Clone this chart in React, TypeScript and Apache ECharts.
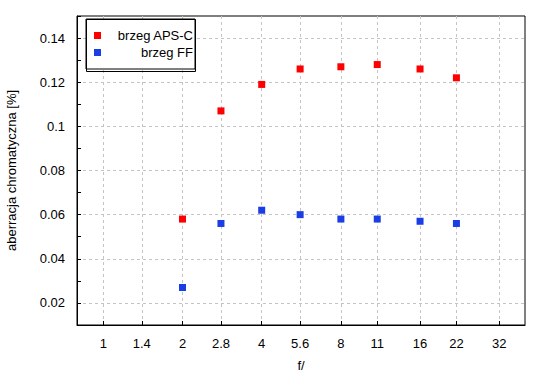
import React, { useEffect, useRef } from "react";
import * as echarts from "echarts";

const fNumbers = [1, 1.4, 2, 2.8, 4, 5.6, 8, 11, 16, 22, 32];
const measuredF = [2, 2.8, 4, 5.6, 8, 11, 16, 22];
const apsC = [0.058, 0.107, 0.119, 0.126, 0.127, 0.128, 0.126, 0.122];
const ff = [0.027, 0.056, 0.062, 0.06, 0.058, 0.058, 0.057, 0.056];
const yMinorTicks = [0.01, 0.02, 0.03, 0.04, 0.05, 0.06, 0.07, 0.08, 0.09, 0.1, 0.11, 0.12, 0.13, 0.14, 0.15];
const yLabels = [0.02, 0.04, 0.06, 0.08, 0.1, 0.12, 0.14];

const FONT = "Liberation Sans";

export default function App() {
  const ref = useRef<HTMLDivElement>(null);
  useEffect(() => {
    const chart = echarts.init(ref.current!, null, { renderer: "svg" });
    const gridLine = { show: true, lineStyle: { color: "#c4c4c4", type: [3, 3], width: 1 } };
    chart.setOption({
      animation: false,
      textStyle: { fontFamily: FONT },
      grid: {
        left: 77, top: 16, right: 25, bottom: 55,
        containLabel: false, outerBoundsMode: "none",
        show: true, borderColor: "#000", borderWidth: 1, backgroundColor: "transparent",
      },
      graphic: {
        elements: [
          {
            type: "polyline", z: 100, silent: true,
            shape: { points: [[86.5, 19.5], [195.5, 19.5], [195.5, 71.5], [86.5, 71.5], [86.5, 19.5]] },
            style: { stroke: "#000", lineWidth: 1, fill: null },
          },
        ],
      },
      legend: {
        left: 86, top: 19, orient: "vertical", z: 10,
        backgroundColor: "#fff", borderColor: "#000", borderWidth: 1,
        padding: [10, 2, 10, 8], itemGap: 4, itemWidth: 7, itemHeight: 7,
        icon: "rect",
        formatter: (name: string) => "{a|" + name + "}",
        textStyle: {
          fontFamily: FONT, fontSize: 13, color: "#000",
          rich: { a: { width: 87, align: "right", fontSize: 13, fontFamily: FONT, lineHeight: 14 } },
        },
        data: ["brzeg APS-C", "brzeg FF"],
      },
      xAxis: {
        type: "log", min: 0.794, max: 40.1,
        name: "f/", nameLocation: "middle", nameGap: 34,
        nameTextStyle: { fontFamily: FONT, fontSize: 13, color: "#000" },
        axisLine: { show: true, lineStyle: { color: "#000", width: 1 } },
        axisTick: { show: true, inside: true, length: 4, customValues: fNumbers, lineStyle: { color: "#000" } },
        axisLabel: { customValues: fNumbers, fontFamily: FONT, fontSize: 13, color: "#000", margin: 12,
          formatter: (v: number) => String(v) },
        splitLine: gridLine,
        minorTick: { show: false },
      },
      yAxis: [
        {
          type: "value", min: 0.01, max: 0.15,
          name: "aberracja chromatyczna [%]", nameLocation: "middle", nameGap: 59,
          nameTextStyle: { fontFamily: FONT, fontSize: 13, color: "#000" },
          axisLine: { show: true, lineStyle: { color: "#000", width: 1 } },
          axisTick: { show: true, inside: true, length: 4, customValues: yMinorTicks, lineStyle: { color: "#000" } },
          axisLabel: { customValues: yLabels, fontFamily: FONT, fontSize: 13, color: "#000", margin: 12,
            formatter: (v: number) => String(Math.round(v * 100) / 100) },
          splitLine: { show: false },
        },
        {
          type: "value", min: 0.01, max: 0.15, position: "left",
          axisLine: { show: false },
          axisTick: { show: false, customValues: yLabels },
          axisLabel: { show: false },
          splitLine: gridLine,
        },
      ],
      series: [
        {
          name: "brzeg APS-C", type: "scatter", symbol: "rect", symbolSize: 7,
          itemStyle: { color: "#ff0000", opacity: 1 },
          data: measuredF.map((f, i) => [f, apsC[i]]),
        },
        {
          name: "brzeg FF", type: "scatter", symbol: "rect", symbolSize: 7,
          itemStyle: { color: "#1a3de6", opacity: 1 },
          data: measuredF.map((f, i) => [f, ff[i]]),
        },
      ],
    });
    return () => chart.dispose();
  }, []);
  return <div ref={ref} style={{ width: 550, height: 380, position: "absolute", left: 0, top: 0, background: "#fff" }} />;
}
